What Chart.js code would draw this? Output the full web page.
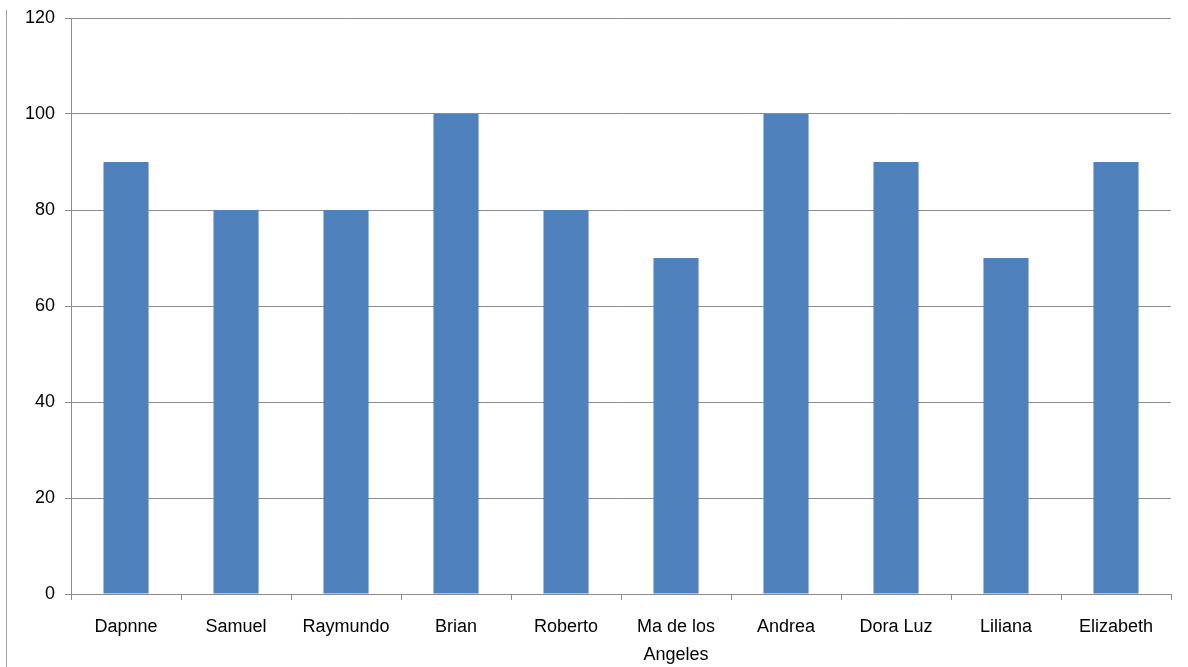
<!DOCTYPE html>
<html>
<head>
<meta charset="utf-8">
<script src="https://cdn.jsdelivr.net/npm/chart.js@4"></script>
<style>
  html, body { margin:0; padding:0; background:#fff; }
  #wrap { position:relative; width:1188px; height:667px; }
  #frame { position:absolute; left:6px; top:10px; bottom:0; border-left:1px solid #a0a0a0; }
</style>
</head>
<body>
<div id="wrap">
  <div id="frame"></div>
  <canvas id="chart" width="1188" height="667"></canvas>
</div>
<script>
// Data
const names  = ['Dapnne', 'Samuel', 'Raymundo', 'Brian', 'Roberto', ['Ma de los', 'Angeles'],
                'Andrea', 'Dora Luz', 'Liliana', 'Elizabeth'];
const scores = [90, 80, 80, 100, 80, 70, 100, 90, 70, 90];
const yTicks = [0, 20, 40, 60, 80, 100, 120];

const C = { bar:'#4f81bd', grid:'#8c8c8c', text:'#000000' };
const FAM = '"Liberation Sans", Arial, sans-serif';

new Chart(document.getElementById('chart').getContext('2d'), {
  type:'bar',
  data:{ labels:names, datasets:[
    { data:scores, backgroundColor:C.bar, borderWidth:0, categoryPercentage:1, barPercentage:0.41 }
  ]},
  options:{
    responsive:false, animation:false,
    layout:{ padding:{ left:15, right:17, top:18, bottom:0 } },
    plugins:{ legend:{display:false}, tooltip:{enabled:false} },
    scales:{
      x:{
        afterFit:ax => { ax.height = 73; },
        grid:{ offset:true, drawOnChartArea:false, color:C.grid, tickLength:6 },
        border:{ color:C.grid },
        ticks:{ color:C.text, font:{ family:FAM, size:18, lineHeight:1.55 }, maxRotation:0, autoSkip:false, padding:13 }
      },
      y:{
        min:yTicks[0], max:yTicks[yTicks.length-1],
        afterBuildTicks:ax => { ax.ticks = yTicks.map(v => ({ value:v })); },
        afterFit:ax => { ax.paddingTop = 0; },
        grid:{ color:C.grid, tickLength:6 },
        border:{ color:C.grid },
        ticks:{ color:C.text, font:{ family:FAM, size:18 }, padding:10 }
      }
    }
  }
});
</script>
</body>
</html>
